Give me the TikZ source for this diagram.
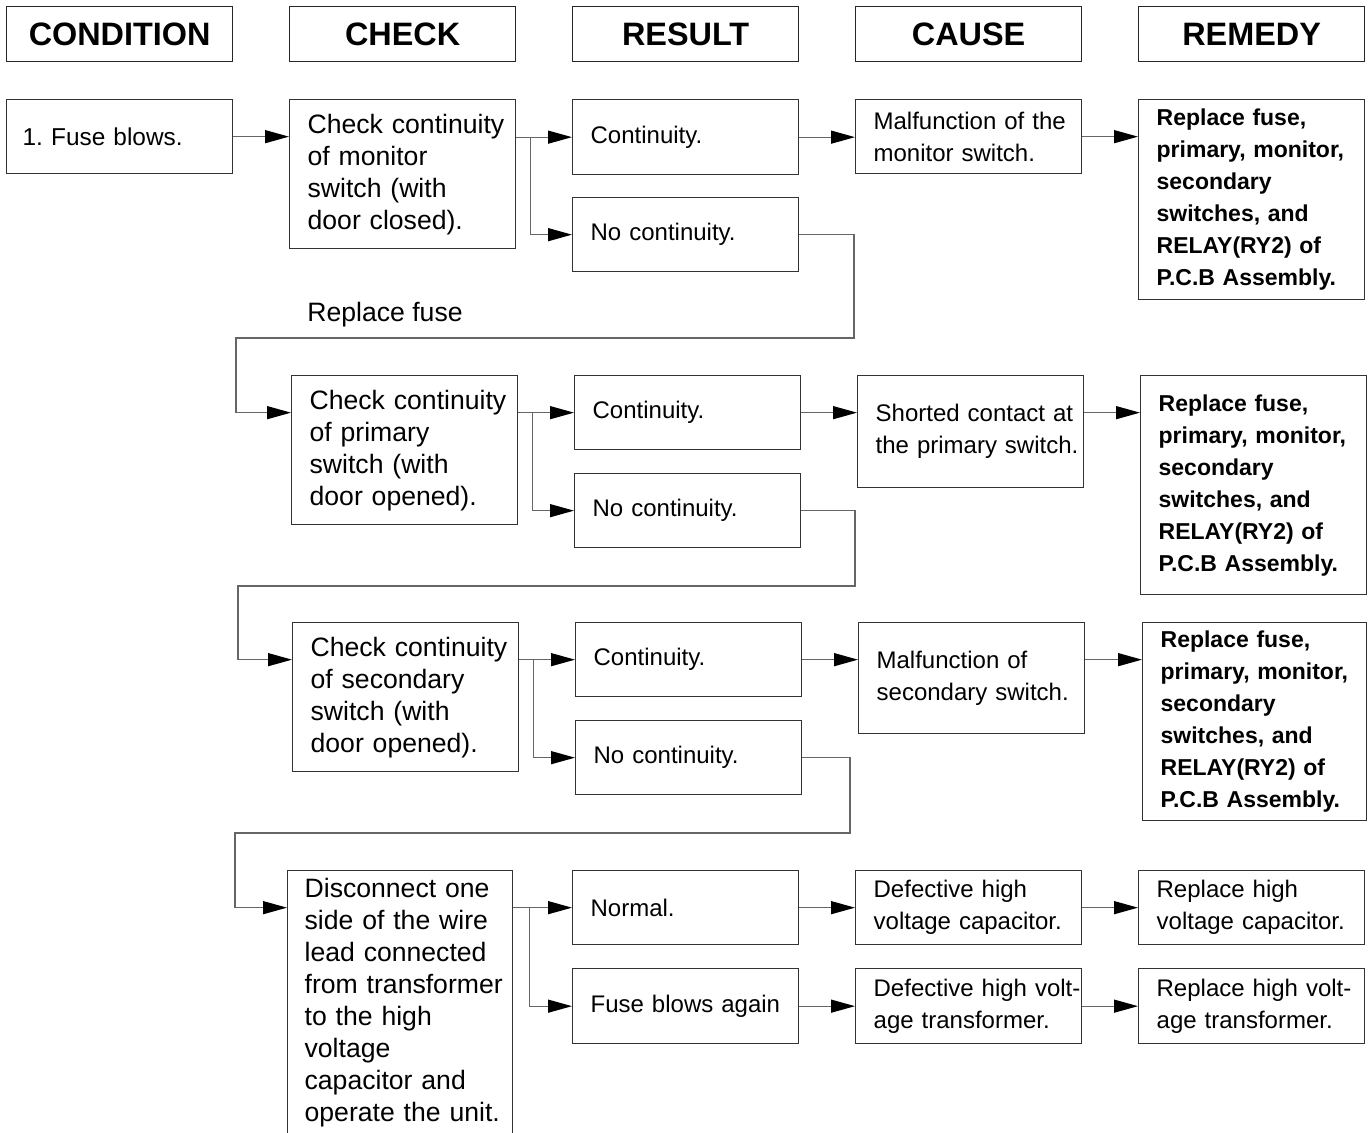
\documentclass[tikz,border=0pt]{standalone}
\usepackage{fontspec}
\setmainfont{Liberation Sans}
\usetikzlibrary{arrows.meta}
\frenchspacing

\newcommand\chkfont{\fontsize{13.3}{16}\selectfont}
\newcommand\resfont{\fontsize{12}{16}\selectfont}
\newcommand\remfont{\bfseries\fontsize{11.5}{16}\selectfont}

\tikzset{
    hdr/.style={draw=black!85, line width=0.65pt, anchor=north west, minimum width=113pt,
        minimum height=27.5pt, inner sep=0pt, font=\bfseries\fontsize{16.2}{18}\selectfont},
    box/.style={draw=black!80, line width=0.65pt, anchor=north west, align=left,
        text width=95pt, inner xsep=9pt, inner ysep=0pt,
        execute at begin node={\hyphenpenalty=10000\exhyphenpenalty=10000\hfuzz=30pt\hbadness=10000}},
    chkbox/.style={box, font=\chkfont},
    resbox/.style={box, font=\resfont},
    rembox/.style={box, font=\remfont},
    arr/.style={-{Triangle[length=12pt,width=6.5pt,color=black]}, line width=0.65pt, draw=black!60},
}

\begin{document}
\begin{tikzpicture}[x=0.5pt,y=-0.5pt]
    \useasboundingbox (0,0) rectangle (1372,1132);
    \clip (0,0) rectangle (1372,1132);
    % headings
    \node[hdr] (hcond) at (6,6) {CONDITION};
    \node[hdr] (hchk) at (289,6) {CHECK};
    \node[hdr] (hres) at (572,6) {RESULT};
    \node[hdr] (hcau) at (855,6) {CAUSE};
    \node[hdr] (hrem) at (1138,6) {REMEDY};

    % monitor switch
    \node[box, text width=97pt, inner xsep=8pt, minimum height=37pt,
        font=\fontsize{12.2}{16}\selectfont] (cond) at (6,99) {1. Fuse blows.};
    \node[chkbox, minimum height=74.5pt] (chk1) at (289,99)
        {Check~continuity\\of monitor\\switch (with\\door closed).};
    \node[resbox, minimum height=37.5pt] (res1a) at (572,99) {Continuity.};
    \node[resbox, minimum height=37pt] (res1b) at (572,197) {No continuity.};
    \node[resbox, minimum height=37pt] (cau1) at (855,99)
        {Malfunction~of~the\\monitor switch.};
    \node[rembox, minimum height=100pt] (rem1) at (1138,99)
        {Replace fuse,\\primary,~monitor,\\secondary\\switches, and\\RELAY(RY2) of\\P.C.B~Assembly.};
    \node[anchor=base west, inner sep=0pt, font=\chkfont] (rfuse) at (307,321) {Replace fuse};

    % primary switch
    \node[chkbox, minimum height=74.5pt] (chk2) at (291,375)
        {Check~continuity\\of primary\\switch (with\\door opened).};
    \node[resbox, minimum height=37pt] (res2a) at (574,375) {Continuity.};
    \node[resbox, minimum height=37pt] (res2b) at (574,473) {No continuity.};
    \node[resbox, minimum height=56pt] (cau2) at (857,375)
        {Shorted~contact~at\\the~primary~switch.};
    \node[rembox, minimum height=109.5pt] (rem2) at (1140,375)
        {Replace fuse,\\primary,~monitor,\\secondary\\switches, and\\RELAY(RY2) of\\P.C.B~Assembly.};

    % secondary switch
    \node[chkbox, minimum height=74.5pt] (chk3) at (292,622)
        {Check~continuity\\of secondary\\switch (with\\door opened).};
    \node[resbox, minimum height=37pt] (res3a) at (575,622) {Continuity.};
    \node[resbox, minimum height=37pt] (res3b) at (575,720) {No continuity.};
    \node[resbox, minimum height=55.5pt] (cau3) at (858,622)
        {Malfunction of\\secondary~switch.};
    \node[rembox, text width=94pt, minimum height=99pt] (rem3) at (1142,622)
        {Replace fuse,\\primary,~monitor,\\secondary\\switches, and\\RELAY(RY2) of\\P.C.B~Assembly.};

    % transformer / capacitor
    \node[chkbox, text width=95.5pt, inner xsep=8.5pt, minimum height=132pt] (chk4) at (287,870)
        {Disconnect~one\\side~of~the~wire\\lead~connected\\from~transformer\\to the high\\voltage\\capacitor and\\operate~the~unit.};
    \node[resbox, minimum height=37pt] (res4a) at (572,870) {Normal.};
    \node[resbox, minimum height=37.5pt] (res4b) at (572,968) {Fuse~blows~again};
    \node[resbox, minimum height=37pt] (cau4a) at (855,870)
        {Defective high\\voltage~capacitor.};
    \node[resbox, minimum height=37.5pt] (cau4b) at (855,968)
        {Defective~high~volt-\\age transformer.};
    \node[resbox, minimum height=37pt] (rem4a) at (1138,870)
        {Replace high\\voltage~capacitor.};
    \node[resbox, minimum height=37.5pt] (rem4b) at (1138,968)
        {Replace~high~volt-\\age transformer.};

    % turning points of the return lines
    \coordinate (turn1) at (854,338);
    \coordinate (turn2) at (855,586);
    \coordinate (turn3) at (850,833);
    \coordinate (br1) at (chk1.east |- res1a.west);
    \coordinate (br2) at (chk2.east |- res2a.west);
    \coordinate (br3) at (chk3.east |- res3a.west);
    \coordinate (br4) at (chk4.east |- res4a.west);
    \coordinate (in2) at (chk2.west |- res2a.west);
    \coordinate (in3) at (chk3.west |- res3a.west);
    \coordinate (in4) at (chk4.west |- res4a.west);

    % connectors
    \draw[arr] (cond.east) -- (cond.east -| chk1.west);
    \draw[arr] (br1) -- (res1a.west);
    \draw[arr] ([xshift=7pt]br1) |- (res1b.west);
    \draw[arr] (res1a.east) -- (res1a.east -| cau1.west);
    \draw[arr] (cau1.east) -- (cau1.east -| rem1.west);
    \draw[arr] (res1b.east) -| (turn1) -| ([xshift=-27.5pt]in2) -- (in2);

    \draw[arr] (br2) -- (res2a.west);
    \draw[arr] ([xshift=7pt]br2) |- (res2b.west);
    \draw[arr] (res2a.east) -- (res2a.east -| cau2.west);
    \draw[arr] (cau2.east |- res2a.east) -- (rem2.west |- res2a.east);
    \draw[arr] (res2b.east) -| (turn2) -| ([xshift=-27pt]in3) -- (in3);

    \draw[arr] (br3) -- (res3a.west);
    \draw[arr] ([xshift=7pt]br3) |- (res3b.west);
    \draw[arr] (res3a.east) -- (res3a.east -| cau3.west);
    \draw[arr] (cau3.east |- res3a.east) -- (rem3.west |- res3a.east);
    \draw[arr] (res3b.east) -| (turn3) -| ([xshift=-26pt]in4) -- (in4);

    \draw[arr] (br4) -- (res4a.west);
    \draw[arr] ([xshift=8pt]br4) |- (res4b.west);
    \draw[arr] (res4a.east) -- (cau4a.west);
    \draw[arr] (res4b.east) -- (cau4b.west);
    \draw[arr] (cau4a.east) -- (rem4a.west);
    \draw[arr] (cau4b.east) -- (rem4b.west);
\end{tikzpicture}
\end{document}
